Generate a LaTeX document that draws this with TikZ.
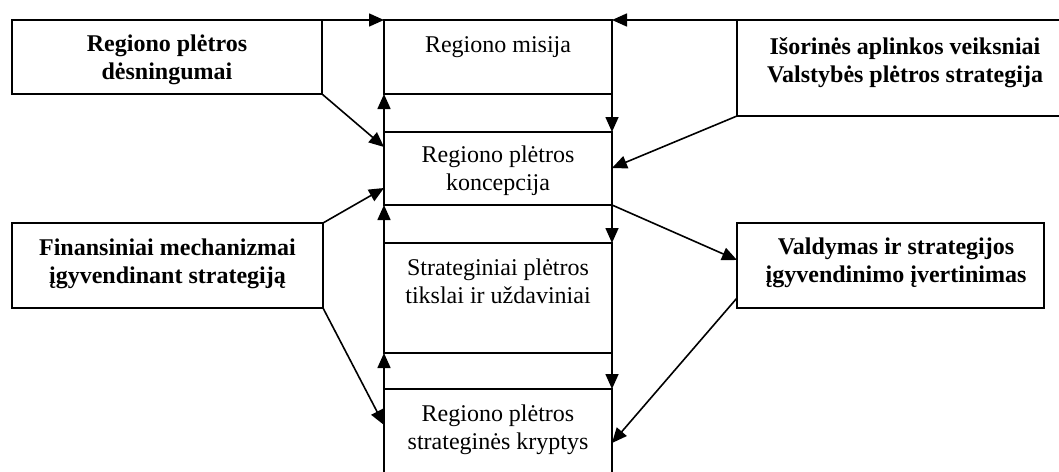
\documentclass[tikz,border=0pt]{standalone}
\usepackage{fontspec}
\setmainfont{Liberation Serif}
\usetikzlibrary{arrows.meta}
\begin{document}
\begin{tikzpicture}[x=0.5pt,y=-0.5pt,
  box/.style={draw,line width=0.8pt,inner sep=0pt,outer sep=0pt},
  txt/.style={align=center,font=\fontsize{12}{13.8}\selectfont,inner sep=0pt},
  btxt/.style={txt,font=\fontsize{12}{13.8}\selectfont\bfseries},
  arr/.style={line width=0.8pt,-{Triangle[length=7.5pt,width=6.5pt]}},
  ln/.style={line width=0.8pt}]
\useasboundingbox (0,0) rectangle (1059,471);
\clip (0,0) rectangle (1059,471);
% central column
\node[box,minimum width=114pt,minimum height=37pt] (misija) at (498,57) {};
\node[box,minimum width=114pt,minimum height=36.5pt] (konc) at (498,168.5) {};
\node[box,minimum width=114pt,minimum height=55pt] (strat) at (498,298) {};
\node[box,minimum width=114pt,minimum height=60.5pt] (kryp) at (498,449.5) {};
\node[txt] (tmisija) at (498,47) {Regiono misija};
\node[txt] (tkonc) at (498,171) {Regiono plėtros\\koncepcija};
\node[txt] (tstrat) at (498,281) {Strateginiai plėtros\\tikslai ir uždaviniai};
\node[txt] (tkryp) at (498,430) {Regiono plėtros\\strateginės kryptys};
% side boxes
\node[box,minimum width=155pt,minimum height=37pt] (desn) at (167,57) {};
\node[box,minimum width=171.5pt,minimum height=48pt] (isor) at (908.5,68) {};
\node[box,minimum width=155.5pt,minimum height=42.5pt] (fin) at (167.5,265.5) {};
\node[box,minimum width=153.5pt,minimum height=42.5pt] (vald) at (890.5,265.5) {};
\node[btxt] (tdesn) at (167,60) {Regiono plėtros\\dėsningumai};
\node[btxt] (tisor) at (905,62.5) {Išorinės aplinkos veiksniai\\Valstybės plėtros strategija};
\node[btxt] (tfin) at (167.5,264) {Finansiniai mechanizmai\\įgyvendinant strategiją};
\node[btxt] (tvald) at (896,263) {Valdymas ir strategijos\\įgyvendinimo įvertinimas};
% connector end points
\coordinate (kw1) at (384,147);
\coordinate (kw2) at (384,188);
\coordinate (ke1) at (612,168);
\coordinate (vw1) at (737,260);
\coordinate (vw2) at (737,298);
\coordinate (yw1) at (384,425);
\coordinate (ye1) at (612,443);
% vertical flow arrows
\draw[arr] (konc.north west) -- (misija.south west);
\draw[arr] (strat.north west) -- (konc.south west);
\draw[arr] (kryp.north west) -- (strat.south west);
\draw[arr] (misija.south east) -- (konc.north east);
\draw[arr] (konc.south east) -- (strat.north east);
\draw[arr] (strat.south east) -- (kryp.north east);
% side arrows
\draw[arr] (desn.north east) -- (misija.north west);
\draw[arr] (desn.south east) -- (kw1);
\draw[arr] (isor.north west) -- (misija.north east);
\draw[arr] (isor.south west) -- (ke1);
\draw[arr] (fin.north east) -- (kw2);
\draw[arr] (fin.south east) -- (yw1);
\draw[arr] (konc.south east) -- (vw1);
\draw[arr] (vw2) -- (ye1);
\end{tikzpicture}
\end{document}
